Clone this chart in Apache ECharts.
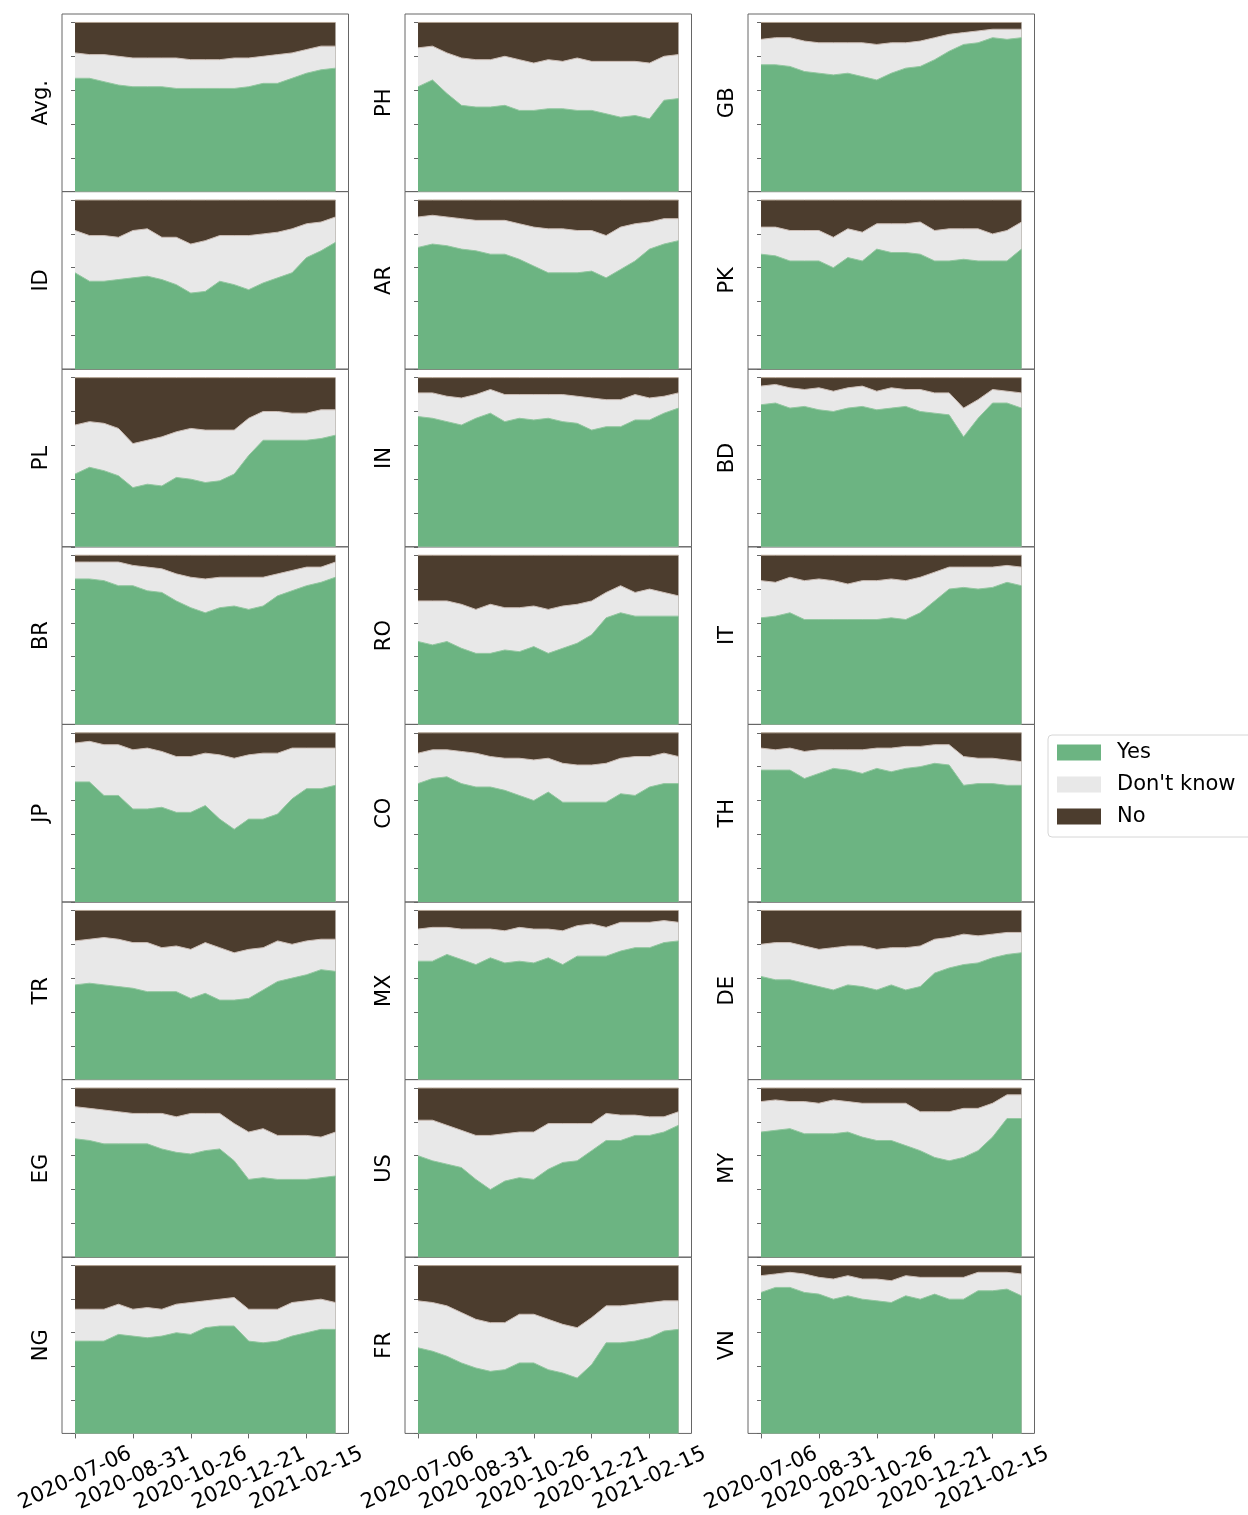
<!DOCTYPE html>
<html>
<head>
<meta charset="utf-8">
<script src="https://cdn.jsdelivr.net/npm/echarts@6/dist/echarts.min.js"></script>
<style>
  html, body { margin: 0; padding: 0; background: #fff; }
  #chart { width: 1248px; height: 1515px; }
</style>
</head>
<body>
<div id="chart"></div>
<script>
// biweekly survey waves
const dates = ['2020-07-06', '2020-07-20', '2020-08-03', '2020-08-17', '2020-08-31', '2020-09-14',
  '2020-09-28', '2020-10-12', '2020-10-26', '2020-11-09', '2020-11-23', '2020-12-07', '2020-12-21',
  '2021-01-04', '2021-01-18', '2021-02-01', '2021-02-15', '2021-03-01', '2021-03-15'];
const tickDates = ['2020-07-06', '2020-08-31', '2020-10-26', '2020-12-21', '2021-02-15'];
const answers = ['Yes', "Don't know", 'No'];
const yTicks = [0, 20, 40, 60, 80, 100];

// share of answers in percent ("Don't know" is the rest)
const avgYes = [67, 67, 65, 63, 62, 62, 62, 61, 61, 61, 61, 61, 62, 64, 64, 67, 70, 72, 73];
const avgNo = [18, 19, 19, 20, 21, 21, 21, 21, 22, 22, 22, 21, 21, 20, 19, 18, 16, 14, 14];
const phYes = [62, 66, 58, 51, 50, 50, 51, 48, 48, 49, 49, 48, 48, 46, 44, 45, 43, 54, 55];
const phNo = [15, 14, 18, 21, 22, 22, 20, 22, 24, 22, 23, 21, 23, 23, 23, 23, 24, 20, 19];
const gbYes = [75, 75, 74, 71, 70, 69, 70, 68, 66, 70, 73, 74, 78, 83, 87, 88, 91, 90, 91];
const gbNo = [10, 9, 9, 11, 12, 12, 12, 12, 13, 12, 12, 11, 9, 7, 6, 5, 4, 4, 4];
const idYes = [57, 52, 52, 53, 54, 55, 53, 50, 45, 46, 52, 50, 47, 51, 54, 57, 66, 70, 75];
const idNo = [18, 21, 21, 22, 18, 17, 22, 22, 26, 24, 21, 21, 21, 20, 19, 17, 14, 13, 10];
const arYes = [72, 74, 73, 71, 70, 68, 68, 65, 61, 57, 57, 57, 58, 54, 59, 64, 71, 74, 76];
const arNo = [10, 9, 10, 11, 12, 12, 12, 14, 16, 17, 17, 18, 18, 21, 16, 14, 13, 11, 11];
const pkYes = [68, 67, 64, 64, 64, 60, 66, 64, 71, 69, 69, 68, 64, 64, 65, 64, 64, 64, 71];
const pkNo = [16, 16, 18, 18, 18, 22, 17, 19, 14, 14, 14, 13, 18, 17, 17, 17, 20, 18, 13];
const plYes = [43, 47, 45, 42, 35, 37, 36, 41, 40, 38, 39, 43, 54, 63, 63, 63, 63, 64, 66];
const plNo = [28, 26, 27, 30, 39, 37, 35, 32, 30, 31, 31, 31, 24, 20, 20, 21, 21, 19, 19];
const inYes = [77, 76, 74, 72, 76, 79, 74, 76, 75, 76, 74, 73, 69, 71, 71, 75, 75, 79, 82];
const inNo = [9, 9, 11, 12, 10, 7, 10, 10, 10, 10, 10, 11, 12, 13, 13, 10, 12, 11, 9];
const bdYes = [84, 85, 82, 83, 81, 80, 82, 83, 81, 82, 83, 80, 79, 78, 65, 76, 85, 85, 82];
const bdNo = [5, 4, 6, 7, 6, 8, 6, 5, 8, 6, 7, 7, 9, 9, 18, 13, 7, 8, 9];
const brYes = [86, 86, 85, 82, 82, 79, 78, 73, 69, 66, 69, 70, 68, 70, 76, 79, 82, 84, 87];
const brNo = [4, 4, 4, 4, 6, 7, 8, 11, 13, 14, 13, 13, 13, 13, 11, 9, 7, 7, 4];
const roYes = [49, 47, 49, 45, 42, 42, 44, 43, 46, 42, 45, 48, 53, 63, 66, 64, 64, 64, 64];
const roNo = [27, 27, 27, 29, 32, 29, 31, 31, 30, 32, 30, 29, 27, 22, 18, 22, 20, 22, 24];
const itYes = [63, 64, 66, 62, 62, 62, 62, 62, 62, 63, 62, 66, 73, 80, 81, 80, 81, 84, 82];
const itNo = [15, 16, 13, 15, 14, 15, 17, 15, 15, 14, 15, 13, 10, 7, 7, 7, 7, 6, 7];
const jpYes = [71, 71, 63, 63, 55, 55, 56, 53, 53, 57, 49, 43, 49, 49, 52, 61, 67, 67, 69];
const jpNo = [6, 5, 7, 7, 10, 9, 11, 14, 14, 12, 13, 15, 13, 12, 12, 9, 9, 9, 9];
const coYes = [70, 73, 74, 70, 68, 68, 66, 63, 60, 65, 59, 59, 59, 59, 64, 63, 68, 70, 70];
const coNo = [12, 10, 10, 11, 12, 14, 15, 15, 16, 15, 18, 19, 19, 18, 15, 14, 14, 12, 14];
const thYes = [78, 78, 78, 73, 76, 79, 78, 76, 79, 77, 79, 80, 82, 81, 69, 70, 70, 69, 69];
const thNo = [9, 10, 9, 11, 10, 10, 10, 10, 9, 9, 8, 8, 7, 7, 14, 15, 15, 16, 17];
const trYes = [56, 57, 56, 55, 54, 52, 52, 52, 48, 51, 47, 47, 48, 53, 58, 60, 62, 65, 64];
const trNo = [18, 17, 16, 17, 19, 19, 22, 21, 23, 19, 22, 25, 23, 22, 18, 20, 18, 17, 17];
const mxYes = [70, 70, 74, 71, 68, 72, 69, 70, 69, 72, 68, 73, 73, 73, 76, 78, 78, 81, 82];
const mxNo = [11, 10, 10, 11, 11, 11, 12, 10, 11, 11, 12, 9, 8, 10, 7, 7, 7, 6, 7];
const deYes = [61, 59, 59, 57, 55, 53, 56, 55, 53, 56, 53, 55, 63, 66, 68, 69, 72, 74, 75];
const deNo = [20, 19, 19, 21, 23, 22, 21, 21, 23, 22, 22, 21, 17, 16, 14, 15, 14, 13, 13];
const egYes = [70, 69, 67, 67, 67, 67, 64, 62, 61, 63, 64, 57, 46, 47, 46, 46, 46, 47, 48];
const egNo = [11, 12, 13, 14, 15, 15, 15, 17, 15, 15, 15, 21, 26, 24, 28, 28, 28, 29, 26];
const usYes = [60, 57, 55, 53, 46, 40, 45, 47, 46, 52, 56, 57, 63, 69, 69, 72, 72, 74, 78];
const usNo = [19, 19, 22, 25, 28, 28, 27, 26, 26, 21, 21, 21, 21, 15, 16, 16, 17, 17, 14];
const myYes = [74, 75, 76, 73, 73, 73, 74, 71, 69, 69, 66, 63, 59, 57, 59, 63, 71, 82, 82];
const myNo = [8, 7, 8, 8, 9, 7, 8, 9, 9, 9, 9, 14, 14, 14, 12, 12, 9, 4, 4];
const ngYes = [55, 55, 55, 59, 58, 57, 58, 60, 59, 63, 64, 64, 55, 54, 55, 58, 60, 62, 62];
const ngNo = [26, 26, 26, 23, 26, 25, 26, 23, 22, 21, 20, 19, 26, 26, 26, 22, 21, 20, 22];
const frYes = [51, 49, 46, 42, 39, 37, 38, 42, 42, 38, 36, 33, 41, 54, 54, 55, 57, 61, 62];
const frNo = [21, 22, 24, 28, 32, 34, 34, 29, 29, 32, 35, 37, 31, 24, 24, 23, 22, 21, 21];
const vnYes = [84, 87, 87, 84, 83, 80, 82, 80, 79, 78, 82, 80, 83, 80, 80, 85, 85, 86, 82];
const vnNo = [6, 5, 4, 5, 7, 8, 6, 8, 8, 9, 6, 7, 7, 7, 7, 4, 4, 4, 5];

// panels in reading order, 3 per row
const panels = [
  ['Avg.', avgYes, avgNo], ['PH', phYes, phNo], ['GB', gbYes, gbNo],
  ['ID', idYes, idNo], ['AR', arYes, arNo], ['PK', pkYes, pkNo],
  ['PL', plYes, plNo], ['IN', inYes, inNo], ['BD', bdYes, bdNo],
  ['BR', brYes, brNo], ['RO', roYes, roNo], ['IT', itYes, itNo],
  ['JP', jpYes, jpNo], ['CO', coYes, coNo], ['TH', thYes, thNo],
  ['TR', trYes, trNo], ['MX', mxYes, mxNo], ['DE', deYes, deNo],
  ['EG', egYes, egNo], ['US', usYes, usNo], ['MY', myYes, myNo],
  ['NG', ngYes, ngNo], ['FR', frYes, frNo], ['VN', vnYes, vnNo]
];

const colors = ['#6cb482', '#e8e8e8', '#4c3d2e'];
const edgeColors = ['#93c7a0', '#cbbcb4', '#b0a090'];
const font = 'DejaVu Sans';
const colLeft = [62, 405, 748];
const panelW = 286.5;
const panelH = 177.6;
const topY = 14;

const chart = echarts.init(document.getElementById('chart'));
const tickIdx = tickDates.map(d => dates.indexOf(d));

const grid = [], xAxis = [], yAxis = [], series = [];
panels.forEach(([name, yes, no], i) => {
  const row = Math.floor(i / 3);
  const col = i % 3;
  const last = row === 7;
  grid.push({
    left: colLeft[col], top: topY + row * panelH, width: panelW, height: panelH,
    show: true, z: 3, backgroundColor: 'transparent', borderColor: '#666', borderWidth: 1
  });
  xAxis.push({
    gridIndex: i, type: 'value', min: -0.9, max: 18.9,
    axisLine: { show: false }, splitLine: { show: false },
    axisTick: { show: last, customValues: tickIdx, length: 5, lineStyle: { color: '#666' } },
    axisLabel: {
      show: last, customValues: tickIdx, formatter: v => dates[Math.round(v)],
      rotate: 25, align: 'center', verticalAlign: 'middle', margin: 45,
      fontSize: 21, color: '#000', fontFamily: font
    }
  });
  yAxis.push({
    gridIndex: i, type: 'value', min: 0, max: 105,
    name: name, nameLocation: 'middle', nameGap: 10,
    nameTextStyle: { fontSize: 21, color: '#000', fontFamily: font },
    axisLine: { show: false }, splitLine: { show: false }, axisLabel: { show: false },
    axisTick: { show: true, customValues: yTicks, length: 4, lineStyle: { color: '#666' } }
  });
  // stack by hand: each band is drawn as the running total, top band first
  const dk = yes.map((y, k) => 100 - y - no[k]);
  const bands = [yes, dk, no];
  const totals = bands.map((_, s) => yes.map((_, k) => bands.slice(0, s + 1).reduce((a, b) => a + b[k], 0)));
  [2, 1, 0].forEach(s => {
    series.push({
      name: answers[s], type: 'line', xAxisIndex: i, yAxisIndex: i,
      symbol: 'none', silent: true,
      data: totals[s].map((v, k) => [k, v]),
      itemStyle: { color: colors[s] },
      lineStyle: { width: 1, color: edgeColors[s] },
      areaStyle: { color: colors[s], opacity: 1 }
    });
  });
});

chart.setOption({
  animation: false,
  grid: grid,
  xAxis: xAxis,
  yAxis: yAxis,
  legend: {
    data: answers, orient: 'vertical', left: 1048, top: 735,
    icon: 'rect', itemWidth: 44, itemHeight: 16, itemGap: 11,
    padding: [7, 30, 10, 9],
    backgroundColor: '#fff', borderColor: '#d6d6d6', borderWidth: 1, borderRadius: 4,
    itemStyle: { borderWidth: 0 },
    textStyle: { fontSize: 21, color: '#000', fontFamily: font, padding: [0, 0, 0, 11] }
  },
  series: series
});
</script>
</body>
</html>
